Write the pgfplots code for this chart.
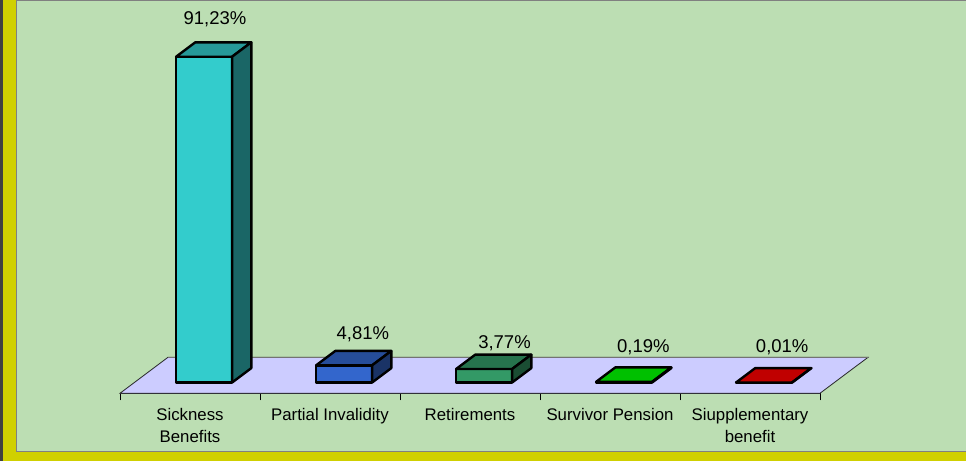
\documentclass[border=0pt]{standalone}
\usepackage{pgfplots}
\pgfplotsset{compat=1.18}
\usepackage{fontspec}
\setmainfont{Liberation Sans}
\definecolor{bgGreen}{RGB}{188,222,179}
\definecolor{frameYellow}{RGB}{208,208,0}
\definecolor{floorC}{RGB}{204,204,255}
\definecolor{c1f}{RGB}{51,204,204}\definecolor{c1t}{RGB}{38,153,153}\definecolor{c1s}{RGB}{26,102,102}
\definecolor{c2f}{RGB}{51,102,204}\definecolor{c2t}{RGB}{38,77,153}\definecolor{c2s}{RGB}{26,51,102}
\definecolor{c3f}{RGB}{51,153,102}\definecolor{c3t}{RGB}{38,115,77}\definecolor{c3s}{RGB}{26,77,51}
\definecolor{c4f}{RGB}{0,255,0}\definecolor{c4t}{RGB}{0,192,0}\definecolor{c4s}{RGB}{0,128,0}
\definecolor{c5f}{RGB}{255,0,0}\definecolor{c5t}{RGB}{192,0,0}\definecolor{c5s}{RGB}{128,0,0}
\newcommand{\yu}{3.571}
\pgfplotsset{
  box3d/.style n args={5}{
    only marks, mark=*, mark size=0.01pt, mark options={draw=none,fill=none},
    scatter,
    visualization depends on={rawy \as \rawyval},
    scatter/@pre marker code/.code={%
      \pgfmathsetmacro\hh{\rawyval*\yu}%
      \pgfmathsetmacro\hb{14.4-\hh}%
      \filldraw[fill=#1, draw=black, line width=2.4pt, line join=round]
         (-28pt,-\hh pt) rectangle (28pt,0pt);
      \filldraw[fill=#2, draw=black, line width=2.4pt, line join=round]
         (-28pt,0pt) -- (-8.8pt,14.4pt) -- (47.2pt,14.4pt) -- (28pt,0pt) -- cycle;
      \filldraw[fill=#3, draw=black, line width=2.4pt, line join=round]
         (28pt,0pt) -- (47.2pt,14.4pt) -- (47.2pt,\hb pt) -- (28pt,-\hh pt) -- cycle;
      \node[anchor=center, inner sep=0pt, font=\fontsize{18.5}{22}\selectfont, text=black]
         at (#4,#5) {\pgfmathprintnumber[fixed,fixed zerofill,precision=2,use comma,assume math mode=true]{\rawyval}\%};
    },
    scatter/@post marker code/.code={},
  },
}
\begin{document}
\begin{tikzpicture}
\useasboundingbox (0pt,0pt) rectangle (966pt,461pt);
\fill[frameYellow] (0pt,0pt) rectangle (966pt,461pt);
\fill[black!75] (0pt,0pt) rectangle (3.3pt,461pt);
\filldraw[fill=bgGreen, draw=black!50, line width=1pt] (16.5pt,9.5pt) rectangle (968pt,460.5pt);
\begin{axis}[
  at={(204.1pt,78.5pt)}, anchor=origin,
  x=140pt, y=3.571pt,
  xmin=-0.6007, xmax=4.3993, ymin=-3.024, ymax=95,
  axis x line*=bottom, axis y line=none,
  clip=false,
  xtick={-0.6007,0.3993,1.3993,2.3993,3.3993,4.3993},
  x tick label as interval,
  xticklabels={Sickness\\Benefits, Partial Invalidity, Retirements, Survivor Pension, Siupplementary\\benefit},
  xticklabel style={align=center, font=\fontsize{16.8}{22}\selectfont, text=black, yshift=-4pt},
  tick align=outside, major tick length=7pt,
  x axis line style={-,black,line width=0.8pt},
  every tick/.style={black, line width=0.8pt},
  /pgf/number format/assume math mode=true,
]
\filldraw[fill=floorC, draw=black!85, line width=0.8pt]
  (axis cs:-0.6007,-3.024) -- (axis cs:4.3993,-3.024) -- (axis cs:4.7422,7.057) -- (axis cs:-0.2578,7.057) -- cycle;
\draw[black!55, line width=1.2pt] (axis cs:-0.2578,7.057) -- (axis cs:4.7422,7.057);
\addplot[box3d={c1f}{c1t}{c1s}{10.9pt}{37.4pt}] coordinates {(0,91.23)};
\addplot[box3d={c2f}{c2t}{c2s}{18.7pt}{31.3pt}] coordinates {(1,4.81)};
\addplot[box3d={c3f}{c3t}{c3s}{20.4pt}{26pt}] coordinates {(2,3.77)};
\addplot[box3d={c4f}{c4t}{c4s}{19.2pt}{34.8pt}] coordinates {(3,0.19)};
\addplot[box3d={c5f}{c5t}{c5s}{18.1pt}{35.5pt}] coordinates {(4,0.01)};
\end{axis}
\end{tikzpicture}
\end{document}
